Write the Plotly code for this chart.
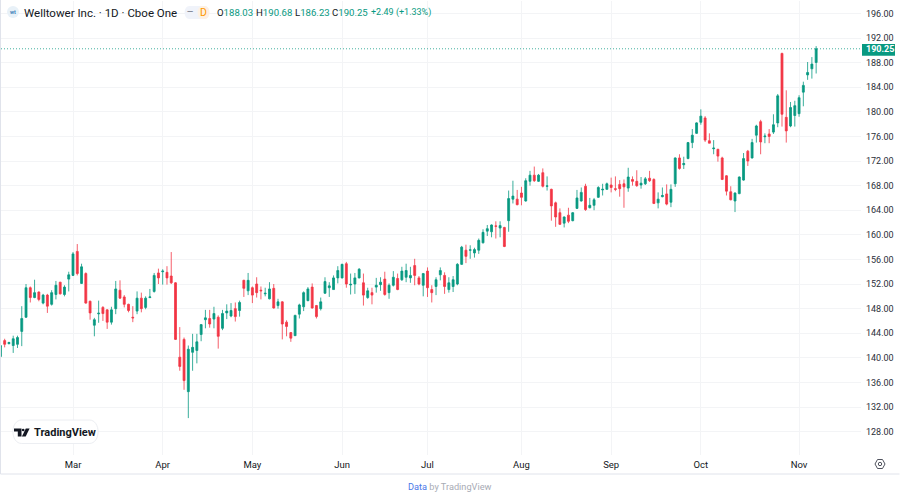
import pandas as pd
import plotly.graph_objects as go

# daily candles
opens = [140.2,142.8,142.3,142.0,142.2,144.3,146.6,151.4,149.8,150.7,148.9,150.2,148.7,150.3,152.3,150.3,152.8,153.4,157.3,152.1,
         153.7,149.2,145.3,147.15,148.2,147.8,145.8,148.0,151.0,149.9,148.7,146.6,147.6,149.7,148.2,149.8,150.8,153.8,154.0,153.9,
         153.3,152.2,140.1,143.0,134.5,140.9,141.2,143.8,146.2,146.4,146.3,146.6,144.8,147.3,146.8,148.0,147.7,152.6,150.9,151.4,
         152.0,151.0,150.4,149.6,151.3,148.5,149.1,145.8,144.1,143.6,147.1,148.3,149.3,151.5,148.5,148.0,150.5,151.4,151.1,153.0,
         153.0,155.3,151.85,152.0,153.0,152.2,149.8,150.6,151.5,151.9,152.8,150.6,151.8,152.9,152.7,153.1,153.0,155.0,153.0,151.8,
         154.1,151.1,151.6,153.5,153.4,151.1,151.6,152.0,155.2,157.5,157.5,157.05,157.5,158.7,160.6,160.5,161.45,161.1,161.2,162.3,
         165.8,165.8,166.8,165.5,168.7,169.7,168.7,170.1,167.9,167.4,165.2,163.6,161.9,163.2,162.3,164.3,165.5,167.9,164.4,164.8,
         166.1,167.3,167.4,168.1,167.5,168.2,168.3,167.6,169.0,168.7,168.1,168.3,169.2,169.0,165.2,166.2,166.65,165.3,168.3,172.5,
         171.4,172.4,175.0,176.5,178.3,179.0,175.3,174.0,173.9,172.5,169.6,167.0,165.5,166.7,168.9,173.6,172.5,176.2,178.4,175.95,
         176.4,176.7,178.2,189.5,179.1,177.7,179.4,179.7,183.2,186.0,187.0,188.03]
highs = [142.1,143.1,142.6,143.6,143.6,148.4,152.0,151.6,152.7,150.8,150.4,150.4,151.0,152.5,152.35,151.8,154.0,157.2,158.5,155.3,
         153.9,149.3,146.5,149.3,148.4,147.9,148.3,152.5,152.6,150.2,148.8,148.4,150.8,150.6,150.0,151.2,153.8,154.5,154.4,154.9,
         157.2,152.3,145.0,143.3,142.0,143.9,143.9,145.5,147.8,147.8,148.3,146.9,147.8,148.7,148.9,149.0,149.3,152.7,153.8,151.6,
         153.1,151.6,151.4,152.3,152.0,149.6,149.2,146.1,144.2,147.0,148.8,150.8,151.5,152.1,148.6,149.8,153.1,152.3,153.4,154.9,
         155.3,155.6,153.7,153.8,154.6,153.7,151.4,151.4,153.0,153.1,154.0,152.1,154.1,153.7,154.8,155.3,154.8,156.1,153.3,153.8,
         154.7,151.8,153.1,154.7,153.9,153.1,153.3,155.4,158.2,158.4,158.3,157.9,159.4,160.9,161.6,161.7,162.2,162.2,161.3,167.2,
         168.8,167.3,167.8,169.2,170.4,171.1,169.9,170.8,169.5,167.5,165.4,164.3,163.0,164.4,163.7,167.3,167.7,168.3,166.0,166.0,
         167.9,168.3,168.5,169.3,169.5,168.9,169.0,170.9,169.5,170.5,169.4,169.4,170.4,169.2,166.9,167.7,168.2,168.2,172.6,173.1,
         172.7,175.1,177.2,178.3,180.4,179.3,176.5,175.4,174.0,172.7,169.7,167.9,166.9,169.5,173.3,173.8,175.6,177.9,178.7,176.5,
         177.2,179.6,182.9,189.6,183.5,181.6,181.8,182.7,184.9,188.1,188.9,190.68]
lows = [140.1,141.7,142.2,140.8,141.6,141.9,146.5,149.0,149.7,149.2,148.7,147.3,148.5,149.5,150.3,150.0,150.8,153.3,153.4,152.0,
        148.8,146.2,143.5,145.7,146.0,144.7,145.4,147.1,149.6,148.2,147.4,145.8,147.1,147.4,147.9,149.7,150.6,152.0,151.9,151.9,
        152.0,142.9,137.9,134.8,130.2,137.9,139.1,142.7,144.8,144.9,144.8,141.5,144.5,146.3,146.6,145.9,146.7,149.9,150.2,148.9,
        149.8,149.5,150.0,149.5,148.0,148.0,143.0,143.5,142.6,143.6,146.4,147.6,149.2,148.0,146.4,147.7,150.4,149.9,151.1,152.1,
        152.9,151.4,150.3,150.4,152.9,148.5,149.6,148.7,150.6,150.9,150.1,149.6,151.6,151.0,152.5,152.3,152.2,151.8,151.8,150.0,
        149.9,149.0,150.2,152.6,150.4,150.6,150.7,151.8,155.1,155.4,156.1,156.3,156.9,158.6,159.8,159.6,159.4,159.6,158.0,160.5,
        165.1,164.8,164.8,165.4,168.0,168.6,168.6,167.7,167.2,162.3,161.3,161.6,161.2,161.9,162.2,164.2,165.4,163.9,164.3,164.0,
        166.0,166.4,167.3,166.9,167.1,166.2,164.4,167.0,168.0,167.8,167.5,168.1,168.6,165.0,164.3,166.1,164.8,164.5,167.8,170.6,
        170.7,172.3,174.1,176.4,177.9,175.1,174.9,173.1,171.9,168.9,166.4,165.6,163.7,166.6,168.8,171.2,172.4,175.0,173.1,174.9,
        174.9,176.4,177.5,177.6,175.0,177.5,177.6,179.2,180.9,185.2,185.4,186.23]
closes = [142.0,142.2,142.5,143.1,143.3,146.4,151.4,149.8,150.6,149.5,150.2,148.4,150.6,151.8,150.4,151.5,153.5,156.9,153.7,154.8,
          148.9,147.3,146.2,147.25,147.2,145.8,147.8,151.2,149.7,148.7,147.7,146.5,149.7,148.0,149.7,149.9,153.4,153.0,154.1,153.0,
          152.2,143.0,138.6,136.3,141.4,141.7,142.6,145.4,146.5,145.5,147.2,143.5,147.2,147.6,147.7,146.7,149.0,151.3,152.6,150.2,
          150.6,150.9,150.5,151.2,148.1,149.1,145.5,145.1,143.2,146.9,148.6,150.6,151.2,148.1,146.7,149.1,152.4,151.7,153.0,154.2,
          155.2,152.0,151.95,153.0,154.4,150.2,150.9,150.2,151.8,152.3,150.3,151.8,153.1,151.1,154.1,154.2,153.4,153.4,152.0,153.7,
          151.4,150.6,152.7,154.2,151.6,152.2,152.7,155.2,158.0,156.5,157.55,157.6,159.1,160.4,161.0,161.6,161.4,161.5,158.1,165.9,
          166.3,164.9,166.1,168.8,169.7,168.8,169.7,167.9,167.95,164.7,162.9,161.7,162.9,162.2,163.6,166.0,166.9,164.1,164.8,165.7,
          167.7,167.4,168.3,167.7,167.4,167.5,167.8,169.4,168.7,168.0,168.4,169.1,168.8,165.1,165.8,166.4,165.0,167.4,172.5,170.8,
          171.6,175.0,176.2,178.2,179.3,175.4,174.9,174.1,172.8,169.0,167.1,165.7,166.8,169.4,172.4,172.0,175.0,177.7,175.1,176.05,
          176.0,177.9,182.6,179.6,176.9,180.7,181.0,182.3,184.3,186.4,187.76,190.25]

holidays = ["2025-02-17", "2025-04-18", "2025-05-26", "2025-06-19", "2025-07-04", "2025-09-01"]
dates = [d.strftime("%Y-%m-%d") for d in pd.bdate_range("2025-02-05", "2025-11-07") if d.strftime("%Y-%m-%d") not in holidays]

month_starts = ["2025-03-03", "2025-04-01", "2025-05-01", "2025-06-02", "2025-07-01", "2025-08-01", "2025-09-02", "2025-10-01", "2025-11-03"]
month_labels = ["Mar", "Apr", "May", "Jun", "Jul", "Aug", "Sep", "Oct", "Nov"]
price_ticks = list(range(128, 197, 4))
last_price = 190.25

GREEN = "#089981"
RED = "#f23645"
FONT = "Roboto"
W, H = 900, 498
ML, MR, MT, MB = 1, 39, 1, 43


def fx(x):
    return (x - ML) / (W - ML - MR)


def fy(y):
    return 1 - (y - MT) / (H - MT - MB)


def label(x, y, text, color="#131722", size=10, anchor="left", **kw):
    fig.add_annotation(xref="paper", yref="paper", x=fx(x), y=fy(y), text=text, showarrow=False,
                       xanchor=anchor, yanchor="middle", font=dict(family=FONT, size=size, color=color),
                       borderpad=0, **kw)


def box(x0, y0, x1, y1, **kw):
    fig.add_shape(type="rect", xref="paper", yref="paper", x0=fx(x0), x1=fx(x1), y0=fy(y0), y1=fy(y1), **kw)


def pill(x0, y0, x1, y1, fill, line="rgba(0,0,0,0)", width=1):
    r = (y1 - y0) / 2
    path = (f"M {fx(x0 + r)} {fy(y0)} L {fx(x1 - r)} {fy(y0)} "
            f"C {fx(x1)} {fy(y0)} {fx(x1)} {fy(y1)} {fx(x1 - r)} {fy(y1)} "
            f"L {fx(x0 + r)} {fy(y1)} C {fx(x0)} {fy(y1)} {fx(x0)} {fy(y0)} {fx(x0 + r)} {fy(y0)} Z")
    fig.add_shape(type="path", xref="paper", yref="paper", path=path, fillcolor=fill, line=dict(color=line, width=width))


def poly(points, fill="rgba(0,0,0,0)", line="rgba(0,0,0,0)", width=1):
    path = "M " + " L ".join(f"{fx(x)} {fy(y)}" for x, y in points) + " Z"
    fig.add_shape(type="path", xref="paper", yref="paper", path=path, fillcolor=fill, line=dict(color=line, width=width))


fig = go.Figure(go.Candlestick(
    x=dates, open=opens, high=highs, low=lows, close=closes,
    increasing=dict(line=dict(color=GREEN, width=0.8), fillcolor=GREEN),
    decreasing=dict(line=dict(color=RED, width=0.8), fillcolor=RED),
    whiskerwidth=0, showlegend=False,
))

fig.update_layout(
    width=W, height=H, margin=dict(l=ML, r=MR, t=MT, b=MB),
    paper_bgcolor="white", plot_bgcolor="white", boxgap=0.35, showlegend=False,
    font=dict(family=FONT, color="#131722", size=10),
)
fig.update_xaxes(
    type="category", categoryorder="array", categoryarray=dates, rangeslider_visible=False,
    range=[0.14, 201.5], tickmode="array", tickvals=month_starts, ticktext=month_labels, ticklabelstandoff=2,
    showgrid=True, gridcolor="#f3f4f6", gridwidth=1, zeroline=False, showline=False, ticks="",
    tickfont=dict(family=FONT, size=9.5, color="#131722"),
)
fig.update_yaxes(
    side="right", range=[124.2, 198.02], tickmode="array", tickvals=price_ticks,
    ticktext=[f"{p:.2f}" for p in price_ticks], showgrid=True, gridcolor="#f3f4f6", gridwidth=1,
    zeroline=False, showline=False, ticks="", ticklabelstandoff=4,
    tickfont=dict(family=FONT, size=9, color="#2a2e39"),
)

# last price line and tag
fig.add_hline(y=last_price, opacity=0.75, line=dict(color=GREEN, width=1, dash="1px,2px"))
box(862, 44, 895, 55.7, fillcolor=GREEN, line=dict(width=0))
fig.add_annotation(xref="paper", yref="y", x=fx(879.5), y=last_price, text="<b>190.25</b>", showarrow=False,
                   xanchor="center", yanchor="middle", font=dict(family=FONT, size=9, color="white"))

# chart frame
fig.add_shape(type="path", xref="paper", yref="paper", line=dict(color="#e0e3eb", width=1),
              path=f"M {fx(0.5)} {fy(0)} L {fx(0.5)} {fy(474)} L {fx(899.5)} {fy(474)}")

# header
fig.add_shape(type="circle", xref="paper", yref="paper", x0=fx(7), x1=fx(19), y0=fy(6), y1=fy(18),
              fillcolor="#e8f1f8", line=dict(width=0))
label(13, 12, "<b>wt</b>", color="#3d84b8", size=5.5, anchor="center")
label(22.5, 12.5, "Welltower Inc. · 1D · Cboe One", size=11.5)
pill(183, 6, 211, 19, "#f0f3fa")
pill(196, 6, 211, 19, "#fdf1e3")
label(190, 12, "<b>—</b>", color="#7a7f8d", size=8, anchor="center")
label(203, 12.5, "D", color="#ff9800", size=10.5, anchor="center")
header_bits = [(216, "O"), (255, "H"), (294.3, "L"), (331.2, "C")]
header_vals = ["188.03", "190.68", "186.23", "190.25"]
for (x, name), val in zip(header_bits, header_vals):
    label(x, 12.5, f"{name}<span style='color:{GREEN}'>{val}</span>", size=9.6)
label(370, 12.5, "+2.49 (+1.33%)", color=GREEN, size=9)

# TradingView badge
pill(10, 420, 101, 443.5, "white", line="#eceef2")
poly([(14, 428.5), (21.5, 428.5), (21.5, 436.5), (17.8, 436.5), (17.8, 431.5), (14, 431.5)], fill="#131722")
fig.add_shape(type="circle", xref="paper", yref="paper", x0=fx(21.9), x1=fx(24.5), y0=fy(428.7), y1=fy(431.3),
              fillcolor="#131722", line=dict(width=0))
poly([(25.8, 428.5), (29.6, 428.5), (25.7, 436.5), (21.9, 436.5)], fill="#131722")
label(33, 432.5, "<b>TradingView</b>", size=11)

# settings icon
poly([(875, 464), (877.5, 459.5), (882.5, 459.5), (885, 464), (882.5, 468.5), (877.5, 468.5)], line="#50535e")
fig.add_shape(type="circle", xref="paper", yref="paper", x0=fx(878.3), x1=fx(881.7), y0=fy(462.3), y1=fy(465.7),
              line=dict(color="#50535e", width=1))

# footer
label(450, 486.5, "<span style='color:#4a77e8'>Data</span> by TradingView", color="#a8abb5", size=9.2, anchor="center")

fig.write_html("out.html", config=dict(displayModeBar=False), post_script="document.body.style.margin='0';")
